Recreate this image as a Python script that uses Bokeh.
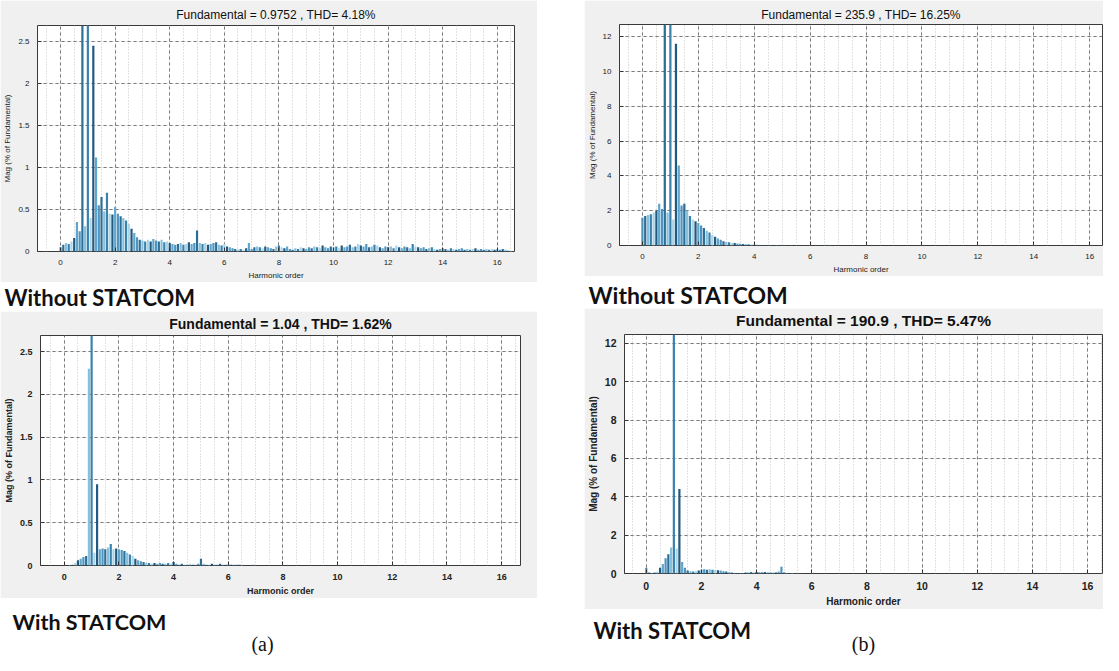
from bokeh.plotting import figure
from bokeh.layouts import row, column
from bokeh.models import (Label, SingleIntervalTicker, FixedTicker, Range1d, Spacer,
                          NumeralTickFormatter, LinearAxis)
from bokeh.embed import file_html
from bokeh.resources import INLINE

# ---------------- data (Mag, % of fundamental) at harmonic-order steps of 0.1 ----------------
ORDER_STEP = 0.1

# (a) Without STATCOM : Fundamental = 0.9752 , THD= 4.18%
A_TOP = [
    0.05, 0.08, 0.10, 0.09, 0.12, 0.16, 0.35, 0.24, 6.00, 0.30,
    100.0, 0.40, 2.45, 1.12, 0.55, 0.65, 0.48, 0.70, 0.45, 0.44,
    0.53, 0.45, 0.42, 0.40, 0.37, 0.33, 0.27, 0.22, 0.17, 0.14,
    0.13, 0.12, 0.14, 0.12, 0.15, 0.13, 0.12, 0.14, 0.11, 0.12,
    0.10, 0.09, 0.08, 0.09, 0.10, 0.08, 0.09, 0.11, 0.09, 0.10,
    0.25, 0.10, 0.09, 0.10, 0.08, 0.09, 0.10, 0.11, 0.08, 0.07,
    0.09, 0.06, 0.05, 0.04, 0.03, 0.02, 0.03, 0.02, 0.04, 0.10,
    0.03, 0.05, 0.06, 0.05, 0.04, 0.06, 0.05, 0.04, 0.03, 0.06,
    0.07, 0.05, 0.04, 0.06, 0.03, 0.02, 0.04, 0.03, 0.05, 0.04,
    0.03, 0.05, 0.04, 0.06, 0.05, 0.04, 0.07, 0.05, 0.04, 0.06,
    0.05, 0.06, 0.04, 0.07, 0.05, 0.06, 0.08, 0.05, 0.06, 0.09,
    0.07, 0.06, 0.09, 0.05, 0.06, 0.08, 0.07, 0.05, 0.04, 0.06,
    0.05, 0.06, 0.04, 0.07, 0.05, 0.04, 0.06, 0.05, 0.04, 0.09,
    0.06, 0.05, 0.04, 0.05, 0.03, 0.04, 0.05, 0.03, 0.02, 0.03,
    0.04, 0.03, 0.02, 0.04, 0.03, 0.02, 0.03, 0.04, 0.02, 0.03,
    0.02, 0.03, 0.04, 0.02, 0.03, 0.02, 0.03, 0.02, 0.03, 0.02,
    0.03, 0.02, 0.03, 0.02, 0.01, 0.01,
]

# (a) With STATCOM : Fundamental = 1.04 , THD= 1.62%
A_BOT = [
    0.00, 0.00, 0.005, 0.01, 0.03, 0.06, 0.08, 0.10, 0.11, 2.30,
    100.0, 0.15, 0.95, 0.19, 0.20, 0.19, 0.21, 0.25, 0.19, 0.20,
    0.19, 0.18, 0.17, 0.15, 0.13, 0.11, 0.08, 0.06, 0.05, 0.04,
    0.03, 0.03, 0.02, 0.03, 0.02, 0.03, 0.02, 0.02, 0.03, 0.02,
    0.04, 0.02, 0.01, 0.02, 0.01, 0.01, 0.02, 0.01, 0.01, 0.02,
    0.08, 0.02, 0.01, 0.01, 0.02, 0.01, 0.01, 0.02, 0.01, 0.01,
    0.02, 0.01, 0.01, 0.01, 0.01, 0.01, 0.00, 0.00, 0.00, 0.01,
]

# (b) Without STATCOM : Fundamental = 235.9 , THD= 16.25%
B_TOP = [
    1.60, 1.70, 1.75, 1.80, 1.90, 2.00, 2.40, 2.10, 25.0, 1.90,
    100.0, 1.50, 11.6, 4.60, 2.30, 2.40, 2.00, 1.70, 1.50, 1.40,
    1.30, 1.15, 1.00, 0.85, 0.75, 0.60, 0.50, 0.40, 0.33, 0.25,
    0.20, 0.18, 0.15, 0.14, 0.12, 0.10, 0.09, 0.08, 0.07, 0.06,
    0.05, 0.04, 0.03, 0.03, 0.02, 0.03, 0.02, 0.02, 0.03, 0.02,
    0.03, 0.02, 0.02, 0.01, 0.02, 0.01, 0.02, 0.01, 0.01, 0.02,
    0.01, 0.01, 0.02, 0.01, 0.01, 0.01, 0.01, 0.02, 0.01, 0.01,
]

# (b) With STATCOM : Fundamental = 190.9 , THD= 5.47%
B_BOT = [
    0.30, 0.05, 0.03, 0.05, 0.10, 0.30, 0.50, 0.80, 1.00, 1.35,
    100.0, 1.30, 4.40, 0.60, 0.30, 0.15, 0.12, 0.10, 0.12, 0.15,
    0.20, 0.22, 0.20, 0.22, 0.20, 0.18, 0.17, 0.15, 0.12, 0.10,
    0.08, 0.05, 0.04, 0.03, 0.02, 0.03, 0.05, 0.06, 0.08, 0.07,
    0.08, 0.07, 0.06, 0.08, 0.07, 0.05, 0.06, 0.05, 0.10, 0.35,
    0.05, 0.03, 0.02, 0.02, 0.01, 0.01, 0.01, 0.01, 0.00, 0.00,
]

TITLES = [
    "Fundamental = 0.9752 , THD= 4.18%",
    "Fundamental = 1.04 , THD= 1.62%",
    "Fundamental = 235.9 , THD= 16.25%",
    "Fundamental = 190.9 , THD= 5.47%",
]
CAPTIONS = ["Without STATCOM", "With STATCOM"]
SUBFIG = ["(a)", "(b)"]
X_LABEL = "Harmonic order"
Y_LABEL = "Mag (% of Fundamental)"

BAR_COLORS = ["#4f94bf", "#2c6e96", "#86c0dc", "#3a82ad", "#a9d5ea", "#22597e", "#5fa6cc"]
FONT = "Liberation Sans"


def style_axis(ax, style, tick_fs, lab_fs):
    ax.axis_line_color = None
    ax.major_tick_in = 4
    ax.major_tick_out = 0
    ax.major_tick_line_color = "#333333"
    ax.minor_tick_line_color = None
    ax.major_label_text_font = FONT
    ax.major_label_text_font_size = f"{tick_fs}px"
    ax.major_label_text_font_style = style
    ax.major_label_text_color = "#222222"
    ax.axis_label_text_font = FONT
    ax.axis_label_text_font_size = f"{lab_fs}px"
    ax.axis_label_text_font_style = style
    ax.axis_label_text_color = "#222222"
    ax.axis_label_standoff = 3
    ax.major_label_standoff = 4


def panel(vals, title, xr, yr, ystep, yminor, w, h, ml, mr, mt, mb,
          bold, title_fs, title_gap, tick_fs, lab_fs):
    p = figure(width=w, height=h, x_range=Range1d(*xr), y_range=Range1d(*yr),
               output_backend="svg", toolbar_location=None, frame_align=False, title=None,
               min_border_left=ml, min_border_right=mr,
               min_border_top=mt, min_border_bottom=mb,
               background_fill_color="white", border_fill_color="#f0f0f0",
               outline_line_color="#3a3a3a", outline_line_width=1)
    xs = [round(i * ORDER_STEP, 2) for i in range(len(vals))]
    cols = [BAR_COLORS[i % len(BAR_COLORS)] for i in range(len(vals))]
    p.vbar(x=xs, top=vals, width=0.08, fill_color=cols, line_color=None)

    style = "bold" if bold else "normal"
    p.xaxis.ticker = SingleIntervalTicker(interval=2, num_minor_ticks=4)
    p.yaxis.ticker = SingleIntervalTicker(interval=ystep, num_minor_ticks=yminor)
    p.yaxis.formatter = NumeralTickFormatter(format="0[.]0")
    p.xaxis.axis_label = X_LABEL
    p.yaxis.axis_label = Y_LABEL
    style_axis(p.xaxis[0], style, tick_fs, lab_fs)
    style_axis(p.yaxis[0], style, tick_fs, lab_fs)

    # panel title: label of a tick-less axis just above the frame
    top = LinearAxis(ticker=FixedTicker(ticks=[]), axis_label=title)
    style_axis(top, style, tick_fs, title_fs)
    top.major_label_standoff = 0
    top.major_tick_in = 0
    top.axis_label_standoff = title_gap
    top.axis_label_text_color = "#111111"
    p.add_layout(top, "above")

    for g in (p.xgrid, p.ygrid):
        g.grid_line_color = "#7a7a7a"
        g.grid_line_dash = "3 3"
        g.grid_line_width = 1
        g.minor_grid_line_color = "#c4c4c4"
        g.minor_grid_line_dash = "1 2"
    return p


def strip(w, h, items):
    p = figure(width=w, height=h, x_range=Range1d(0, w), y_range=Range1d(0, h),
               output_backend="svg", toolbar_location=None, title=None, frame_align=False,
               x_axis_type=None, y_axis_type=None,
               min_border=0, min_border_left=0, min_border_right=0,
               min_border_top=0, min_border_bottom=0,
               background_fill_color="white", border_fill_color="white",
               outline_line_color=None)
    p.grid.visible = False
    for txt, x, y, font, size, fstyle, align in items:
        p.add_layout(Label(x=x, y=y, text=txt, text_font=font, text_font_size=f"{size}px",
                           text_font_style=fstyle, text_align=align, text_baseline="middle",
                           text_color="#111111"))
    return p


a_top = panel(A_TOP, TITLES[0], (-0.845, 16.63), (0, 2.69), 0.5, 1,
              537, 282, 30, 23, 25, 31, False, 12, 4, 8, 8)
a_bot = panel(A_BOT, TITLES[1], (-0.87, 16.69), (0, 2.69), 0.5, 1,
              537, 287, 30, 17, 24, 33, True, 14, 4, 9, 9)
b_top = panel(B_TOP, TITLES[2], (-0.82, 16.46), (0, 12.7), 2, 1,
              519, 276, 34, 1, 24, 30, False, 12, 3, 8, 8)
b_bot = panel(B_BOT, TITLES[3], (-0.79, 16.54), (0, 12.46), 2, 1,
              519, 301, 33, 1, 23, 36, True, 15.5, 6, 10.5, 10)

LAB_FONT = "Lato"
strip_a1 = strip(537, 29, [(CAPTIONS[0], 4, 14, LAB_FONT, 22, "bold", "left")])
strip_a2 = strip(537, 57, [(CAPTIONS[1], 12, 34, LAB_FONT, 21.5, "bold", "left"),
                           (SUBFIG[0], 262, 12, "Liberation Serif", 20, "normal", "center")])
strip_b1 = strip(519, 32, [(CAPTIONS[0], 4, 14, LAB_FONT, 23, "bold", "left")])
strip_b2 = strip(519, 46, [(CAPTIONS[1], 9, 25, LAB_FONT, 22, "bold", "left"),
                           (SUBFIG[1], 279, 12, "Liberation Serif", 20, "normal", "center")])

left = column(a_top, strip_a1, a_bot, strip_a2, spacing=0)
right = column(b_top, strip_b1, b_bot, strip_b2, spacing=0)
layout = row(left, Spacer(width=47, height=10), right, spacing=0)

open("out.html", "w").write(file_html(layout, INLINE))
